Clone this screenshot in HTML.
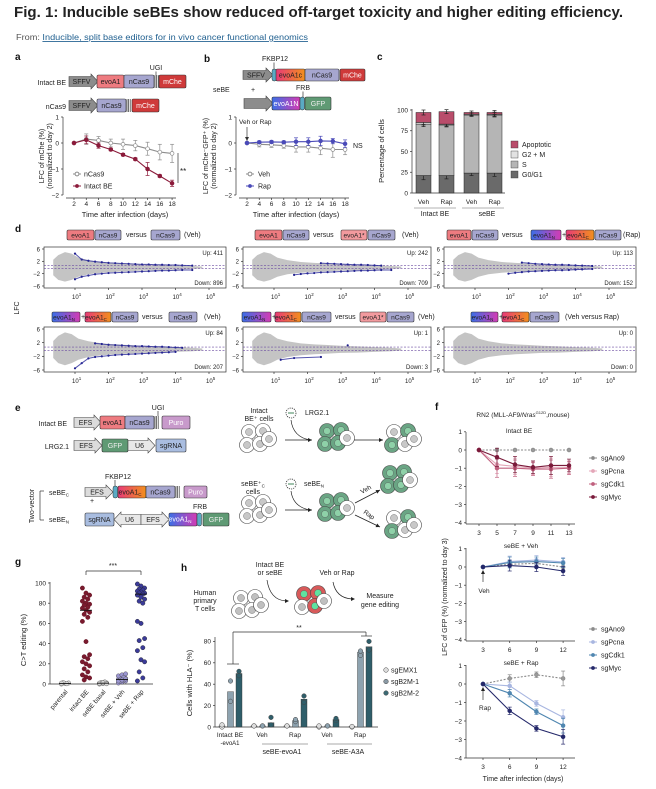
<!DOCTYPE html>
<html><head><meta charset="utf-8">
<style>
body{margin:0;background:#fff;width:656px;height:789px;overflow:hidden}
svg{display:block;font-family:"Liberation Sans",sans-serif}
</style></head>
<body>
<svg id="fig" width="656" height="789" viewBox="0 0 656 789">
<defs>
<linearGradient id="gN" x1="0" x2="1"><stop offset="0" stop-color="#3b6fe6"/><stop offset="1" stop-color="#d43cb4"/></linearGradient>
<linearGradient id="gC" x1="0" x2="1"><stop offset="0" stop-color="#e83a78"/><stop offset="1" stop-color="#f2901c"/></linearGradient>
</defs>
<text x="14" y="17" font-size="15" font-weight="bold" textLength="609" lengthAdjust="spacingAndGlyphs" fill="#222">Fig. 1: Inducible seBEs show reduced off-target toxicity and higher editing efficiency.</text>
<text x="16" y="40" font-size="8.5" fill="#555" textLength="292" lengthAdjust="spacingAndGlyphs">From: <tspan fill="#1f5f8f" text-decoration="underline">Inducible, split base editors for in vivo cancer functional genomics</tspan></text>
<g font-weight="bold" font-size="10" fill="#111">
<text x="15" y="60">a</text>
<text x="204" y="62">b</text>
<text x="377" y="60">c</text>
<text x="15" y="232">d</text>
<text x="15" y="411">e</text>
<text x="435" y="410">f</text>
<text x="15" y="565">g</text>
<text x="181" y="571">h</text>
</g>
</svg>
<script>
// ---------- DATA ----------
const daysA = [2,4,6,8,10,12,14,16,18];
const aNCas9 = [0,0.15,0.1,0,-0.05,-0.1,-0.22,-0.35,-0.4];
const aNCas9Err = [0,0.2,0.15,0.15,0.2,0.2,0.25,0.3,0.35];
const aIntact = [0,0.12,-0.1,-0.25,-0.45,-0.62,-1.0,-1.27,-1.55];
const aIntactErr = [0,0.15,0.1,0.05,0.05,0.05,0.25,0.05,0.12];
const bVeh = [0,-0.05,-0.07,-0.1,-0.15,-0.15,-0.2,-0.25,-0.25];
const bVehErr = [0,0.1,0.1,0.1,0.2,0.2,0.25,0.3,0.2];
const bRap = [0,0.03,0.04,0.03,0.05,0.05,0.08,0.07,-0.03];
const bRapErr = [0,0.05,0.05,0.05,0.15,0.15,0.18,0.1,0.15];
const cCats = ['Veh','Rap','Veh','Rap'];
const cG0G1 = [21,21,24,24];
const cS = [62,61,70,70];
const cG2M = [2,1,1,1];
const cApop = [12,15,2,2];
const cErr = [5,4,3,4];
const maUpCounts = [411,242,113,84,1,0];
const maDownCounts = [896,709,152,207,3,0];
const cloudX = [0.35,0.5,0.7,0.9,1.1,1.4,1.8,2.2,2.6,3.0,3.5,4.0,4.5,4.8];
const cloudTop = [2.5,4,5,4.5,3.2,2.4,1.8,1.5,1.3,1.1,0.9,0.7,0.5,0.3];
const cloudBot = [-2.5,-4,-4.6,-4,-3,-2.2,-1.7,-1.4,-1.2,-1.0,-0.9,-0.7,-0.5,-0.3];
const maX = [1.0,1.2,1.4,1.6,1.8,2.0,2.2,2.4,2.6,2.8,3.0,3.2,3.4,3.6,3.8,4.0,4.2,4.5];
const ma1Up = [4.5,2.6,2.2,1.9,1.7,1.5,1.4,1.3,1.2,1.1,1.0,1.0,0.9,0.9,0.8,0.8,0.7,0.6];
const ma1Down = [-3.8,-3,-2.6,-2.2,-2.0,-1.8,-1.7,-1.6,-1.5,-1.4,-1.3,-1.2,-1.1,-1.0,-1.0,-0.9,-0.8,-0.8];
const ma2Up = [null,null,null,null,null,null,null,1.4,1.3,1.2,1.1,1.0,0.9,0.9,0.8,0.7,0.6,null];
const ma2Down = [null,null,null,-2.4,-2.1,-1.9,-1.8,-1.6,-1.5,-1.4,-1.3,-1.2,-1.1,-1.0,-1.0,-0.9,-0.8,-0.8];
const ma3Up = [null,null,null,null,null,null,null,1.6,1.4,1.2,1.1,1.0,0.9,0.9,0.8,0.7,0.6,0.5];
const ma3Down = [null,null,null,null,null,-2.0,-1.7,-1.5,-1.3,-1.2,-1.1,-1.0,-0.9,-0.9,-0.8,-0.7,-0.6,-0.5];
const ma4Up = [null,null,null,1.8,1.6,1.4,1.3,1.2,1.1,1.0,1.0,0.9,0.8,0.8,0.7,0.6,0.5,null];
const ma4Down = [-5.5,-4,-2.6,-2.2,-2.0,-1.8,-1.6,-1.5,-1.4,-1.3,-1.2,-1.1,-1.0,-0.9,-0.8,-0.7,null,null];
const ma5Up = [null,null,null,null,null,null,null,null,null,null,null,1.2,null,null,null,null,null,null];
const ma5Down = [null,-3,null,-2.5,null,null,null,-2.2,null,null,null,null,null,null,null,null,null,null];
const ma6Up = [];
const ma6Down = [];
const fDaysIntact = [3,5,7,9,11,13];
const fIntAno9 = [0,0,0,0,0,0];
const fIntPcna = [0,-0.8,-0.9,-1.0,-0.95,-0.95];
const fIntCdk1 = [0,-1.0,-1.0,-1.05,-1.05,-1.0];
const fIntMyc = [0,-0.4,-0.8,-0.95,-0.85,-0.85];
const fIntErr = [0,0.5,0.45,0.35,0.5,0.35];
const fDaysSe = [3,6,9,12];
const fVehAno9 = [0,0.15,0.2,0.0];
const fVehPcna = [0,0.3,0.38,0.28];
const fVehCdk1 = [0,0.25,0.3,0.22];
const fVehMyc = [0,0.08,0.0,-0.22];
const fVehErr = [0,0.3,0.25,0.25];
const fRapAno9 = [0,0.3,0.5,0.3];
const fRapPcna = [0,-0.1,-1.05,-1.8];
const fRapCdk1 = [0,-0.5,-1.5,-2.25];
const fRapMyc = [0,-1.45,-2.4,-2.85];
const fRapErr = [0,0.2,0.15,0.4];
const gCats = ['parental','intact BE','seBE basal','seBE + Veh','seBE + Rap'];
const gParental = [0,0.5,1,1.5,0.3,0.8];
const gIntact = [95,90,88,86,84,82,80,79,78,76,75,73,71,69,66,62,42,29,27,25,22,20,18,15,12,9,7,6,4];
const gBasal = [0,0.5,1,1.5,2,0.8,1.2,0.3];
const gVeh = [1,2,3,3.5,4,4.5,5,5.5,6,7,8,9,10,2.5,6.5,3,4,5];
const gRap = [99,97,95,94,93,92,91,90,90,89,88,86,84,82,80,62,60,45,43,36,33,24,22,12,6,3];
const gMedians = [0.5,73,0.8,4.5,89];
const hGroups = ['Intact BE','Veh','Rap','Veh','Rap'];
const hEMX1 = [1,1,1,0.5,0.5];
const hB2M1 = [33,1,6,1,70];
const hB2M2 = [50,4,26,7,75];
const hEMX1Dots = [[0,2],[1,1],[1,1],[0,1],[0,0.5]];
const hB2M1Dots = [[24,43],[1,1],[5,7],[1,1],[67,71]];
const hB2M2Dots = [[48,52],[2,9],[23,29],[6,8],[72,80]];

// ---------- HELPERS ----------
const NS='http://www.w3.org/2000/svg';
const S=document.getElementById('fig');
function mk(tag,attrs,name,parent){
  const e=document.createElementNS(NS,tag);
  for(const k in attrs) e.setAttribute(k,attrs[k]);
  
  
  (parent||S).appendChild(e);
  return e;
}
function tx(x,y,s,size,name,opts){
  opts=opts||{};
  const a={x:x,y:y,'font-size':size,fill:opts.fill||'#222'};
  if(opts.anchor) a['text-anchor']=opts.anchor;
  if(opts.rot!==undefined) a.transform='rotate('+opts.rot+' '+x+' '+y+')';
  if(opts.weight) a['font-weight']=opts.weight;
  if(opts.style) a['font-style']=opts.style;
  const e=mk('text',a,name);
  e.textContent=s;
  return e;
}
function line(x1,y1,x2,y2,name,stroke,w,dash){
  const a={x1:x1,y1:y1,x2:x2,y2:y2,stroke:stroke||'#333','stroke-width':w||0.7};
  if(dash) a['stroke-dasharray']=dash;
  return mk('line',a,name);
}
function feat(x,y,w,h,fill,label,name,tc){
  mk('rect',{x:x,y:y,width:w,height:h,rx:1.5,fill:fill,stroke:'#333','stroke-width':0.6},name);
  if(label){
    const t=tx(x+w/2,y+h/2+2.5,label,7,name+'-text',{anchor:'middle',fill:tc||'#222'});
  }
}
function arrowFeat(x,y,w,h,fill,label,name,left){
  let p;
  if(!left) p=[[x,y+1.5],[x+w-7,y+1.5],[x+w-7,y-1],[x+w,y+h/2],[x+w-7,y+h+1],[x+w-7,y+h-1.5],[x,y+h-1.5]];
  else p=[[x+w,y+1.5],[x+7,y+1.5],[x+7,y-1],[x,y+h/2],[x+7,y+h+1],[x+7,y+h-1.5],[x+w,y+h-1.5]];
  mk('polygon',{points:p.map(q=>q.join(',')).join(' '),fill:fill,stroke:'#444','stroke-width':0.6},name);
  if(label) tx(x+w/2-(left?-2:2),y+h/2+2.5,label,7,name+'-text',{anchor:'middle'});
}
function bars3(x,y,h,name){
  for(let i=0;i<3;i++) line(x+i*1.6,y,x+i*1.6,y+h,name,'#333',0.7);
}
function tiny(x,y,h,name){ mk('rect',{x:x,y:y,width:4.5,height:h,rx:2,fill:'#5aaac4',stroke:'#333','stroke-width':0.5},name); }
function sub(el,main,s){ el.textContent=main; const t=document.createElementNS(NS,'tspan'); t.setAttribute('font-size','4.5'); t.setAttribute('dy','1.5'); t.textContent=s; el.appendChild(t); }

// ---------- PANEL A diagrams ----------
tx(66,85,'Intact BE',7,'intact-be-construct-label',{anchor:'end'});
arrowFeat(69,75,29,13,'#8c8c8c','SFFV','sffv-promoter');
feat(97,75,27,13,'#ee7b80','evoA1','evoA1-domain');
feat(124,75,30,13,'#a6a6cf','nCas9','ncas9-domain');
bars3(155,75,13,'linker-bars');
feat(159,75,27,13,'#cf3a3a','mChe','mcherry-domain','#fff');
tx(156,70,'UGI',7,'ugi-label',{anchor:'middle'});
line(156,71.5,156,75,'ugi-tick');
tx(66,109,'nCas9',7,'ncas9-construct-label',{anchor:'end'});
arrowFeat(69,99,29,13,'#8c8c8c','SFFV','sffv-promoter-2');
feat(97,99,29,13,'#a6a6cf','nCas9','ncas9-domain-2');
bars3(127,99,13,'linker-bars-2');
feat(132,99,27,13,'#cf3a3a','mChe','mcherry-domain-2','#fff');

// ---------- PANEL B diagrams ----------
tx(275,61,'FKBP12',7,'fkbp12-label',{anchor:'middle'});
line(274,62.5,274,69,'fkbp12-tick');
arrowFeat(243,69,30,12,'#8c8c8c','SFFV','sffv-b');
tiny(272,69,12,'fkbp12-domain');
feat(276,69,29,12,'url(#gC)','evoA1c','evoA1c-domain');
feat(305,69,34,12,'#a6a6cf','nCas9','ncas9-b');
feat(340,69,25,12,'#cf3a3a','mChe','mche-b','#fff');
tx(213,92,'seBE',7,'sebe-label');
tx(251,92,'+',7,'plus-b');
tx(303,90,'FRB',7,'frb-label',{anchor:'middle'});
line(303,91.5,303,97,'frb-tick');
arrowFeat(244,97,29,13,'#8c8c8c','','promoter-b2');
feat(272,97,28,13,'url(#gN)','evoA1N','evoA1n-domain','#fff');
tiny(300,97,13,'frb-domain');
feat(305,97,26,13,'#5f9a74','GFP','gfp-b','#eee');

// ---------- LINE CHART helper ----------
function errBar(x,y1,y2,c,name){ line(x,y1,x,y2,name,c,0.7); line(x-2,y1,x+2,y1,name,c,0.7); line(x-2,y2,x+2,y2,name,c,0.7); }
function series(xs,vals,errs,X,Y,color,fill,name,dash,r){
  const pts=xs.map((d,i)=>[X(d),Y(vals[i])]);
  if(errs) xs.forEach((d,i)=>{ if(errs[i]>0) errBar(X(d),Y(vals[i]+errs[i]),Y(vals[i]-errs[i]),color,name+'-error'); });
  const a={points:pts.map(p=>p.join(',')).join(' '),fill:'none',stroke:color,'stroke-width':1.1};
  if(dash) a['stroke-dasharray']=dash;
  mk('polyline',a,name+'-line');
  pts.forEach(p=>{ mk('circle',{cx:p[0],cy:p[1],r:r||1.9,fill:fill,stroke:color,'stroke-width':0.7},name+'-point'); });
}
function yAxis(x,ticks,Y,top,bot,name,fmt){
  line(x,top,x,bot,name+'-line');
  ticks.forEach(t=>{ line(x-2,Y(t),x,Y(t),name+'-tick'); tx(x-4,Y(t)+2.3,fmt?fmt(t):String(t).replace('-','−'),6.5,name+'-tick-label',{anchor:'end'}); });
}
function xAxis(y,ticks,X,l,r,name,ly){
  line(l,y,r,y,name+'-line');
  ticks.forEach(t=>{ line(X(t),y,X(t),y+2,name+'-tick'); tx(X(t),ly||y+9,String(t),6.5,name+'-tick-label',{anchor:'middle'}); });
}

// ---------- PANEL A chart ----------
{
  const X=d=>74+(d-2)*6.13, Y=v=>143-v*26;
  yAxis(63,[1,0,-1,-2],Y,117,195,'a-y-axis');
  xAxis(198,daysA,X,66,176,'a-x-axis',206);
  series(daysA,aNCas9,aNCas9Err,X,Y,'#8d8d8d','#fff','a-ncas9');
  series(daysA,aIntact,aIntactErr,X,Y,'#8b1a3a','#8b1a3a','a-intact-be');
  tx(125,217,'Time after infection (days)',7.5,'a-x-title',{anchor:'middle'});
  tx(44,156,'LFC of mChe (%)',7,'a-y-title',{anchor:'middle',rot:-90});
  tx(52,156,'(normalized to day 2)',7,'a-y-title-2',{anchor:'middle',rot:-90});
  line(178,153,178,183,'a-sig-bracket');
  tx(180,174,'**',8,'a-significance');
  line(73,174,81,174,'a-legend-ncas9-line','#8d8d8d',1); mk('circle',{cx:77,cy:174,r:1.9,fill:'#fff',stroke:'#8d8d8d'},'a-legend-ncas9-marker');
  tx(84,176.5,'nCas9',7,'a-legend-ncas9');
  line(73,186,81,186,'a-legend-intact-line','#8b1a3a',1); mk('circle',{cx:77,cy:186,r:1.9,fill:'#8b1a3a'},'a-legend-intact-marker');
  tx(84,188.5,'Intact BE',7,'a-legend-intact');
}
// ---------- PANEL B chart ----------
{
  const X=d=>247+(d-2)*6.13, Y=v=>143-v*26;
  yAxis(236,[1,0,-1,-2],Y,117,195,'b-y-axis');
  xAxis(198,daysA,X,239,349,'b-x-axis',206);
  series(daysA,bVeh,bVehErr,X,Y,'#8d8d8d','#fff','b-veh');
  series(daysA,bRap,bRapErr,X,Y,'#4a4ab8','#4a4ab8','b-rap');
  tx(239,124,'Veh or Rap',6.5,'b-treatment-label');
  line(247,127,247,139,'b-treatment-arrow');
  mk('polygon',{points:'245,137 249,137 247,141',fill:'#333'},'b-arrowhead');
  tx(353,148,'NS',7,'b-ns-label');
  tx(296,217,'Time after infection (days)',7.5,'b-x-title',{anchor:'middle'});
  tx(208,156,'LFC of mChe⁻GFP⁺ (%)',7,'b-y-title',{anchor:'middle',rot:-90});
  tx(216,156,'(normalized to day 2)',7,'b-y-title-2',{anchor:'middle',rot:-90});
  line(246,174,254,174,'b-legend-veh-line','#8d8d8d',1); mk('circle',{cx:250,cy:174,r:1.9,fill:'#fff',stroke:'#8d8d8d'},'b-legend-veh-marker');
  tx(258,176.5,'Veh',7,'b-legend-veh');
  line(246,186,254,186,'b-legend-rap-line','#4a4ab8',1); mk('circle',{cx:250,cy:186,r:1.9,fill:'#4a4ab8'},'b-legend-rap-marker');
  tx(258,188.5,'Rap',7,'b-legend-rap');
}
// ---------- PANEL C chart ----------
{
  const Y=v=>193-v*0.83;
  const bx=[416,439,464,487], bw=15;
  yAxis(412,[0,25,50,75,100],Y,109,193,'c-y-axis');
  line(412,193,505,193,'c-x-axis');
  const cols=['#6a6a6a','#b5b5b5','#e2e2e2','#b94d6b'];
  const names=['g0g1','s-phase','g2m','apoptotic'];
  cCats.forEach((c,i)=>{
    let base=0;
    [cG0G1[i],cS[i],cG2M[i],cApop[i]].forEach((v,k)=>{
      const r=mk('rect',{x:bx[i],y:Y(base+v),width:bw,height:v*0.83,fill:cols[k],stroke:'#222','stroke-width':0.5},'c-bar-'+names[k]);
      base+=v;
      errBar(bx[i]+bw/2,Y(base+cErr[i]*(k==0?1:0.6)),Y(base-cErr[i]*(k==0?1:0.6)),'#222','c-error');
    });
    tx(bx[i]+bw/2,204,c,6.5,'c-x-label',{anchor:'middle'});
  });
  tx(435,216,'Intact BE',7,'c-group-intact',{anchor:'middle'});
  tx(487,216,'seBE',7,'c-group-sebe',{anchor:'middle'});
  line(414,208,456,208,'c-group-line','#666',0.5); line(462,208,504,208,'c-group-line','#666',0.5);
  tx(384,151,'Percentage of cells',7.5,'c-y-title',{anchor:'middle',rot:-90});
  const lab=['Apoptotic','G2 + M','S','G0/G1'], lc=['#b94d6b','#e2e2e2','#b5b5b5','#6a6a6a'];
  lab.forEach((l,i)=>{ mk('rect',{x:511,y:141+i*10,width:7,height:7,fill:lc[i],stroke:'#333','stroke-width':0.4},'c-legend-swatch'); tx(522,147+i*10,l,7,'c-legend-label'); });
}
// ---------- PANEL D ----------
{
  const frames=[[44,247,182,41],[243,247,188,41],[444,247,192,41],[44,327,182,45],[243,327,188,45],[444,327,192,45]];
  const ups=[ma1Up,ma2Up,ma3Up,ma4Up,ma5Up,ma6Up], downs=[ma1Down,ma2Down,ma3Down,ma4Down,ma5Down,ma6Down];
  frames.forEach((f,p)=>{
    const [fx,fy,fw,fh]=f;
    const X=l=>fx+31+(l-1)*33.5, Y=v=>fy+fh/2-v*(fh/2-2)/6;
    mk('rect',{x:fx,y:fy,width:fw,height:fh,fill:'none',stroke:'#333','stroke-width':0.7},'ma-frame');
    const poly=cloudX.map((l,i)=>X(l)+','+Y(cloudTop[i])).concat(cloudX.slice().reverse().map((l,i)=>X(l)+','+Y(cloudBot[cloudX.length-1-i])));
    mk('polygon',{points:poly.join(' '),fill:'#c4c4c4'},'ma-gray-cloud');
    [0.7,-0.3].forEach(v=>line(fx,Y(v),fx+fw,Y(v),'ma-threshold','#6a4aa0',0.6,'2,1.5'));
    const bl=(arr,nm)=>{
      const pts=[];
      arr.forEach((v,i)=>{ if(v!==null&&v!==undefined){ pts.push(X(maX[i])+','+Y(v)); mk('circle',{cx:X(maX[i]),cy:Y(v),r:1.1,fill:'#1c1c8a'},nm); } });
      if(pts.length>2) mk('polyline',{points:pts.join(' '),fill:'none',stroke:'#2a2a9a','stroke-width':1,'stroke-opacity':0.8},nm+'-band');
    };
    bl(ups[p],'ma-up-point'); bl(downs[p],'ma-down-point');
    [6,2,-2,-6].forEach(t=>{ line(fx-2,Y(t),fx,Y(t),'ma-y-tick'); tx(fx-4,Y(t)+2.3,String(t).replace('-','−'),6,'ma-y-label',{anchor:'end'}); });
    [1,2,3,4,5].forEach(k=>{ line(X(k),fy+fh,X(k),fy+fh+2,'ma-x-tick'); const t=tx(X(k)-3,fy+fh+11,'10',6,'ma-x-label'); const s=document.createElementNS(NS,'tspan'); s.setAttribute('font-size','4.5'); s.setAttribute('dy','-3'); s.textContent=String(k); t.appendChild(s); });
    tx(fx+fw-3,fy+8,'Up: '+maUpCounts[p],6,'ma-up-count',{anchor:'end'});
    tx(fx+fw-3,fy+fh-3,'Down: '+maDownCounts[p],6,'ma-down-count',{anchor:'end'});
  });
  tx(19,308,'LFC',7,'d-y-title',{anchor:'middle',rot:-90});
  function T(items,y){
    items.forEach(it=>{
      const [t,x0,x1,lab,s]=it;
      if(t==='txt'){ tx(x0,y+7,lab,7,'d-title-text'); return; }
      const fill={A:'#ee7b80',C:'#a6a6cf',S:'#f29a9e',N:'url(#gN)',G:'url(#gC)'}[t];
      mk('rect',{x:x0,y:y,width:x1-x0,height:10,rx:1.5,fill:fill,stroke:'#333','stroke-width':0.6},'d-title-box');
      const e=tx((x0+x1)/2-(s?2:0),y+7.5,'',6.5,'d-title-box-text',{anchor:'middle'});
      if(s) sub(e,lab,s); else e.textContent=lab;
    });
  }
  T([['A',67,94,'evoA1'],['C',95,121,'nCas9'],['txt',126,0,'versus'],['C',151,180,'nCas9'],['txt',184,0,'(Veh)']],230);
  T([['A',255,282,'evoA1'],['C',283,309,'nCas9'],['txt',313,0,'versus'],['S',341,367,'evoA1*'],['C',368,395,'nCas9'],['txt',402,0,'(Veh)']],230);
  T([['A',447,471,'evoA1'],['C',472,498,'nCas9'],['txt',502,0,'versus'],['N',531,561,'evoA1','N'],['txt',562,0,'+'],['G',566,594,'evoA1','C'],['C',595,621,'nCas9'],['txt',623,0,'(Rap)']],230);
  T([['N',52,80,'evoA1','N'],['txt',81,0,'+'],['G',85,111,'evoA1','C'],['C',112,138,'nCas9'],['txt',142,0,'versus'],['C',169,197,'nCas9'],['txt',204,0,'(Veh)']],312);
  T([['N',242,271,'evoA1','N'],['txt',272,0,'+'],['G',275,301,'evoA1','C'],['C',302,331,'nCas9'],['txt',335,0,'versus'],['S',360,386,'evoA1*'],['C',387,414,'nCas9'],['txt',418,0,'(Veh)']],312);
  T([['N',471,498,'evoA1','N'],['txt',499,0,'+'],['G',502,529,'evoA1','C'],['C',530,559,'nCas9'],['txt',565,0,'(Veh versus Rap)']],312);
}
// ---------- PANEL E diagrams ----------
{
  tx(67,426,'Intact BE',7,'e-intact-label',{anchor:'end'});
  arrowFeat(74,416,27,13,'#dcdcdc','EFS','e-efs-1');
  feat(100,416,25,13,'#ee7b80','evoA1','e-evoA1');
  feat(125,416,29,13,'#a6a6cf','nCas9','e-ncas9');
  bars3(155,416,13,'e-linker');
  feat(162,416,28,13,'#c89acb','Puro','e-puro','#fff');
  tx(158,410,'UGI',7,'e-ugi-label',{anchor:'middle'}); line(158,411,158,416,'e-ugi-tick');
  tx(69,449,'LRG2.1',7,'e-lrg-label',{anchor:'end'});
  arrowFeat(74,439,28,13,'#dcdcdc','EFS','e-efs-2');
  feat(102,439,26,13,'#5f9a74','GFP','e-gfp','#eee');
  arrowFeat(128,439,27,13,'#e8e8e8','U6','e-u6');
  feat(156,439,30,13,'#a9bde0','sgRNA','e-sgrna');
  tx(118,479,'FKBP12',7,'e-fkbp-label',{anchor:'middle'}); line(115,480,115,486,'e-fkbp-tick');
  const l1=tx(49,495,'',7,'e-sebec-label'); sub(l1,'seBE','C');
  arrowFeat(85,486,28,12,'#dcdcdc','EFS','e-efs-3');
  tiny(113,486,12,'e-fkbp-domain');
  feat(118,486,28,12,'url(#gC)','','e-evoA1c'); const e1=tx(130,494.5,'',7,'e-evoA1c-text',{anchor:'middle'}); sub(e1,'evoA1','C');
  feat(146,486,29,12,'#a6a6cf','nCas9','e-ncas9-2');
  bars3(176,486,12,'e-linker-2');
  feat(184,486,23,12,'#c89acb','Puro','e-puro-2','#fff');
  tx(90,503,'+',7,'e-plus');
  const l2=tx(49,522,'',7,'e-seben-label'); sub(l2,'seBE','N');
  feat(85,513,29,13,'#a9bde0','sgRNA','e-sgrna-2');
  arrowFeat(114,513,27,13,'#e8e8e8','U6','e-u6-2',true);
  arrowFeat(141,513,28,13,'#e8e8e8','EFS','e-efs-4');
  feat(169,513,28,13,'url(#gN)','','e-evoA1n'); const e2=tx(180,521.5,'',7,'e-evoA1n-text',{anchor:'middle',fill:'#fff'}); sub(e2,'evoA1','N');
  tiny(197,513,13,'e-frb-domain');
  feat(203,513,26,13,'#5f9a74','GFP','e-gfp-2','#eee');
  tx(200,509,'FRB',7,'e-frb-label',{anchor:'middle'});
  line(40,491,40,520,'e-bracket'); line(40,491,44,491,'e-bracket'); line(40,520,44,520,'e-bracket');
  tx(34,506,'Two-vector',7,'e-two-vector-label',{anchor:'middle',rot:-90});
  function cluster(cx,cy,kinds,name,red){
    const offs=[[-8,-8],[6,-9],[-10,5],[3,4],[12,-1]];
    kinds.forEach((k,i)=>{
      const [dx,dy]=offs[i];
      const outer=red&&k==='g'?'#cf5a5a':(k==='g'?'#6aa584':'#fff');
      mk('circle',{cx:cx+dx,cy:cy+dy,r:7.5,fill:outer,stroke:'#444','stroke-width':0.6},name+'-cell');
      mk('circle',{cx:cx+dx,cy:cy+dy,r:3.5,fill:k==='g'?(red?'#5fe3a0':'#8ed1a8'):'#c8c8c8',stroke:'#555','stroke-width':0.4},name+'-nucleus');
    });
  }
  function virus(cx,cy,name){ mk('circle',{cx:cx,cy:cy,r:5,fill:'#fff',stroke:'#333','stroke-width':0.8,'stroke-dasharray':'1.2,1'},name); line(cx-3,cy,cx+3,cy,name,'#5f9a74',1.2); }
  function arr(x1,y1,x2,y2,name){ line(x1,y1,x2,y2,name,'#222',0.8); const a=Math.atan2(y2-y1,x2-x1); mk('polygon',{points:[x2,y2,x2-4*Math.cos(a)+2*Math.sin(a),y2-4*Math.sin(a)-2*Math.cos(a),x2-4*Math.cos(a)-2*Math.sin(a),y2-4*Math.sin(a)+2*Math.cos(a)].join(','),fill:'#222'},name+'-head'); }
  tx(259,413,'Intact',7,'e-cells-label',{anchor:'middle'}); tx(259,421,'BE⁺ cells',7,'e-cells-label-2',{anchor:'middle'});
  virus(291,413,'e-virus-1'); tx(305,415,'LRG2.1',7,'e-virus-label-1');
  cluster(257,440,['w','w','w','w','w'],'e-cluster-1');
  mk('path',{d:'M291,420 Q293,437 310,440',fill:'none',stroke:'#222','stroke-width':0.7},'e-infect-curve');
  arr(285,440,312,440,'e-arrow-1');
  cluster(335,439,['g','g','g','g','w'],'e-cluster-2');
  arr(354,440,383,440,'e-arrow-2');
  cluster(402,440,['w','g','g','w','w'],'e-cluster-3');
  const l3=tx(253,486,'',7,'e-sebec-cells',{anchor:'middle'}); sub(l3,'seBE⁺','C'); tx(253,494,'cells',7,'e-sebec-cells-2',{anchor:'middle'});
  virus(291,484,'e-virus-2'); const l4=tx(304,486,'',7,'e-virus-label-2'); sub(l4,'seBE','N');
  cluster(257,511,['w','w','w','w','w'],'e-cluster-4');
  mk('path',{d:'M291,491 Q293,507 310,510',fill:'none',stroke:'#222','stroke-width':0.7},'e-infect-curve-2');
  arr(285,510,312,510,'e-arrow-3');
  cluster(335,509,['g','g','g','g','w'],'e-cluster-5');
  arr(355,503,380,490,'e-arrow-veh'); arr(355,515,380,527,'e-arrow-rap');
  tx(362,494,'Veh',6.5,'e-veh-label',{rot:-30}); tx(363,513,'Rap',6.5,'e-rap-label',{rot:35});
  cluster(398,481,['g','g','g','g','w'],'e-cluster-6');
  cluster(402,526,['w','g','g','w','w'],'e-cluster-7');
}
// ---------- PANEL F ----------
{
  const fc={ano:'#8a8a8a',pI:'#e4a6b8',cI:'#c0607e',mI:'#7a1a3a',pS:'#a8b6e0',cS:'#4f86b0',mS:'#24286a'};
  const t=tx(523,417,'RN2 (MLL-AF9/',6.5,'f-title',{anchor:'middle'}); const it=document.createElementNS(NS,'tspan'); it.setAttribute('font-style','italic'); it.textContent='Nras'; t.appendChild(it); const sp=document.createElementNS(NS,'tspan'); sp.setAttribute('font-size','4'); sp.setAttribute('dy','-3'); sp.textContent='G12D'; t.appendChild(sp); const r=document.createElementNS(NS,'tspan'); r.setAttribute('dy','3'); r.textContent=',mouse)'; t.appendChild(r);
  let X=d=>479+(d-3)*9, Y=v=>450-v*18.2;
  tx(519,433,'Intact BE',6.5,'f1-title',{anchor:'middle'});
  yAxis(466,[1,0,-1,-2,-3,-4],Y,432,524,'f1-y-axis');
  xAxis(524,fDaysIntact,X,466,575,'f1-x-axis',535);
  series(fDaysIntact,fIntAno9,null,X,Y,fc.ano,'#9a9a9a','f1-sgano9','2,1.5');
  series(fDaysIntact,fIntPcna,fIntErr,X,Y,fc.pI,fc.pI,'f1-sgpcna');
  series(fDaysIntact,fIntCdk1,fIntErr,X,Y,fc.cI,fc.cI,'f1-sgcdk1');
  series(fDaysIntact,fIntMyc,fIntErr,X,Y,fc.mI,fc.mI,'f1-sgmyc');
  const leg=(y0,cols,nm)=>['sgAno9','sgPcna','sgCdk1','sgMyc'].forEach((s,i)=>{ line(589,y0+i*13,597,y0+i*13,nm+'-line',cols[i],1,i===0?'2,1':null); mk('circle',{cx:593,cy:y0+i*13,r:1.9,fill:cols[i]},nm+'-marker'); tx(601,y0+i*13+2.5,s,7,nm+'-label'); });
  leg(458,[fc.ano,fc.pI,fc.cI,fc.mI],'f1-legend');
  X=d=>483+(d-3)*8.9; Y=v=>567-v*18.2;
  tx(521,548,'seBE + Veh',6.5,'f2-title',{anchor:'middle'});
  yAxis(466,[1,0,-1,-2,-3,-4],Y,548,641,'f2-y-axis');
  xAxis(641,fDaysSe,X,466,575,'f2-x-axis',652);
  series(fDaysSe,fVehAno9,null,X,Y,fc.ano,'#9a9a9a','f2-sgano9','2,1.5');
  series(fDaysSe,fVehPcna,fVehErr,X,Y,fc.pS,fc.pS,'f2-sgpcna');
  series(fDaysSe,fVehCdk1,fVehErr,X,Y,fc.cS,fc.cS,'f2-sgcdk1');
  series(fDaysSe,fVehMyc,fVehErr,X,Y,fc.mS,fc.mS,'f2-sgmyc');
  line(483,572,483,582,'f2-veh-arrow'); mk('polygon',{points:'481,574 485,574 483,570',fill:'#222'},'f2-veh-arrowhead');
  tx(484,593,'Veh',6.5,'f2-veh-label',{anchor:'middle'});
  leg(629,[fc.ano,fc.pS,fc.cS,fc.mS],'f2-legend');
  Y=v=>684-v*18.5;
  tx(521,665,'seBE + Rap',6.5,'f3-title',{anchor:'middle'});
  yAxis(466,[1,0,-1,-2,-3,-4],Y,665,758,'f3-y-axis');
  xAxis(758,fDaysSe,X,466,575,'f3-x-axis',769);
  series(fDaysSe,fRapAno9,fRapErr,X,Y,fc.ano,'#9a9a9a','f3-sgano9','2,1.5');
  series(fDaysSe,fRapPcna,fRapErr,X,Y,fc.pS,fc.pS,'f3-sgpcna');
  series(fDaysSe,fRapCdk1,fRapErr,X,Y,fc.cS,fc.cS,'f3-sgcdk1');
  series(fDaysSe,fRapMyc,fRapErr,X,Y,fc.mS,fc.mS,'f3-sgmyc');
  line(483,689,483,700,'f3-rap-arrow'); mk('polygon',{points:'481,691 485,691 483,687',fill:'#222'},'f3-rap-arrowhead');
  tx(485,710,'Rap',6.5,'f3-rap-label',{anchor:'middle'});
  tx(523,781,'Time after infection (days)',7,'f-x-title',{anchor:'middle'});
  tx(447,597,'LFC of GFP (%) (normalized to day 3)',7,'f-y-title',{anchor:'middle',rot:-90});
}
// ---------- PANEL G ----------
{
  const Y=v=>684-v*1.01;
  const cx=[65,86,103,122,141];
  yAxis(50,[0,20,40,60,80,100],Y,582,684,'g-y-axis');
  line(50,684,153,684,'g-x-axis');
  const sets=[gParental,gIntact,gBasal,gVeh,gRap];
  const fills=['#d8d8d8','#7a1a2e','#d8d8d8','#9a95d0','#3b3b9a'];
  const strokes=['#555','#5a0f1e','#444','#444','#222'];
  sets.forEach((arr,c)=>{
    arr.forEach((v,i)=>{ const j=((i*7)%5-2)*1.8; mk('circle',{cx:cx[c]+j,cy:Y(v),r:2.2,fill:fills[c],stroke:strokes[c],'stroke-width':0.4},'g-point-'+c); });
    line(cx[c]-6,Y(gMedians[c]),cx[c]+6,Y(gMedians[c]),'g-median','#111',0.9);
    tx(cx[c]+3,692,gCats[c],6.5,'g-x-label',{anchor:'end',rot:-50});
  });
  line(86,571,141,571,'g-sig-bracket'); line(86,571,86,575,'g-sig-bracket'); line(141,571,141,575,'g-sig-bracket');
  tx(113,568,'***',7,'g-significance',{anchor:'middle'});
  tx(26,640,'C>T editing (%)',7.5,'g-y-title',{anchor:'middle',rot:-90});
}
// ---------- PANEL H ----------
{
  tx(270,567,'Intact BE',7,'h-diagram-label-1',{anchor:'middle'}); tx(270,575,'or seBE',7,'h-diagram-label-2',{anchor:'middle'});
  tx(337,575,'Veh or Rap',7,'h-diagram-label-3',{anchor:'middle'});
  tx(205,595,'Human',7,'h-diagram-tcells',{anchor:'middle'}); tx(205,603,'primary',7,'h-diagram-tcells-2',{anchor:'middle'}); tx(205,611,'T cells',7,'h-diagram-tcells-3',{anchor:'middle'});
  const cl=(cx,cy,kinds)=>{ const offs=[[-8,-8],[6,-9],[-10,5],[3,4],[12,-1]]; kinds.forEach((k,i)=>{ const [dx,dy]=offs[i]; mk('circle',{cx:cx+dx,cy:cy+dy,r:7.5,fill:k==='g'?'#d85a5a':'#fff',stroke:'#444','stroke-width':0.6},'h-cell'); mk('circle',{cx:cx+dx,cy:cy+dy,r:3.5,fill:k==='g'?'#5fe3a0':'#c0c0c0',stroke:'#555','stroke-width':0.4},'h-nucleus'); }); };
  cl(249,606,['w','w','w','w','w']);
  cl(312,602,['g','g','w','g','w']);
  mk('path',{d:'M267,580 Q270,600 286,601',fill:'none',stroke:'#222','stroke-width':0.7},'h-arrow-1');
  mk('polygon',{points:'289,601 285,599 285,603',fill:'#222'},'h-arrowhead-1');
  mk('path',{d:'M333,582 Q336,598 352,599',fill:'none',stroke:'#222','stroke-width':0.7},'h-arrow-2');
  mk('polygon',{points:'355,599 351,597 351,601',fill:'#222'},'h-arrowhead-2');
  tx(380,598,'Measure',7,'h-measure',{anchor:'middle'}); tx(380,607,'gene editing',7,'h-measure-2',{anchor:'middle'});
  const Y=v=>727-v*1.07;
  yAxis(215,[0,20,40,60,80],Y,637,727,'h-y-axis');
  line(215,727,378,727,'h-x-axis');
  const gx=[222,254,287,319,352];
  const cols=['#c9ced3','#8ea3b0','#2f5e6a'];
  [hEMX1,hB2M1,hB2M2].forEach((arr,s)=>{
    const dots=[hEMX1Dots,hB2M1Dots,hB2M2Dots][s];
    arr.forEach((v,g)=>{
      const x=gx[g]+s*8.5-3;
      mk('rect',{x:x,y:Y(v),width:6,height:v*1.07,fill:cols[s],stroke:'#333','stroke-width':0.4},'h-bar-'+['sgemx1','sgb2m1','sgb2m2'][s]);
      dots[g].forEach(d=>mk('circle',{cx:x+3,cy:Y(d),r:2.3,fill:s===0?'#ddd':cols[s],stroke:'#444','stroke-width':0.5},'h-replicate-dot'));
    });
  });
  hGroups.forEach((g,i)=>tx(gx[i]+8,737,g,6.5,'h-x-label',{anchor:'middle'}));
  tx(230,745,'-evoA1',6,'h-x-label-2',{anchor:'middle'});
  line(262,744,308,744,'h-group-line','#555',0.5); tx(282,754,'seBE-evoA1',7,'h-group-evoA1',{anchor:'middle'});
  line(327,744,372,744,'h-group-line','#555',0.5); tx(348,754,'seBE-A3A',7,'h-group-a3a',{anchor:'middle'});
  line(233,632,366,632,'h-sig-bracket'); line(233,632,233,664,'h-sig-bracket'); line(227,664,239,664,'h-sig-bracket'); line(366,632,366,636,'h-sig-bracket'); line(361,636,372,636,'h-sig-bracket');
  tx(299,630,'**',7,'h-significance',{anchor:'middle'});
  tx(192,683,'Cells with HLA⁻ (%)',7.5,'h-y-title',{anchor:'middle',rot:-90});
  ['sgEMX1','sgB2M-1','sgB2M-2'].forEach((l,i)=>{ mk('circle',{cx:386,cy:670+i*11.5,r:2.3,fill:['#ddd','#8a9aa5','#3c6a74'][i],stroke:'#444','stroke-width':0.5},'h-legend-marker'); tx(391,672.5+i*11.5,l,7,'h-legend-label'); });
}
</script>
</body></html>
